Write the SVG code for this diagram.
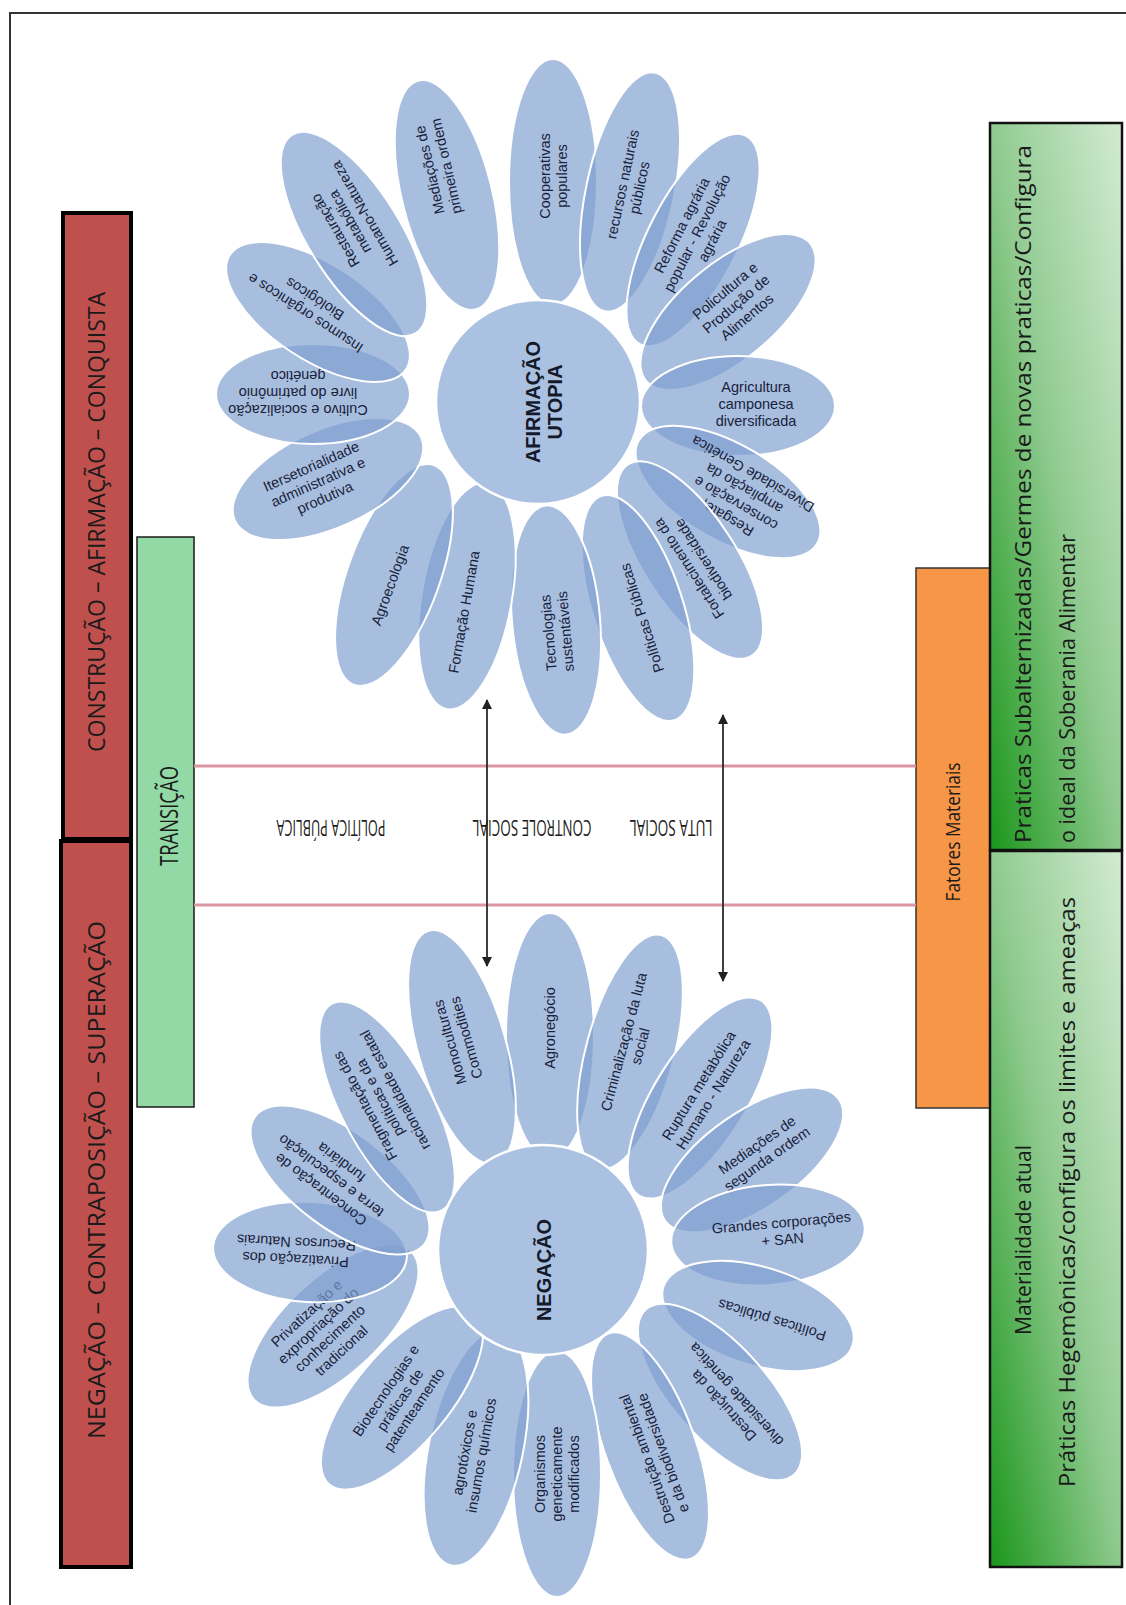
<svg xmlns="http://www.w3.org/2000/svg" width="1126" height="1605" viewBox="0 0 1126 1605">
<style>
.petal{fill:#7f9fd0;fill-opacity:.68;stroke:#fff;stroke-width:2}
.hub{fill:#abc1e2;stroke:#fff;stroke-width:2.5}
.pt{font-family:"Liberation Sans",Arial,sans-serif;font-size:14.5px;fill:#18223a;text-anchor:middle}
.hubt{font-family:"Liberation Sans",Arial,sans-serif;font-weight:bold;fill:#141a2a;text-anchor:middle}
.bt{font-family:"Open Sans","Noto Sans",sans-serif;fill:#1a1a1a}
.pink{stroke:#dc96a2;stroke-width:3}
.arr{stroke:#2a2a2a;stroke-width:1.8;marker-start:url(#ah);marker-end:url(#ah)}
</style>
<defs>
<marker id="ah" viewBox="0 0 10 10" refX="9" refY="5" markerWidth="10" markerHeight="10" markerUnits="userSpaceOnUse" orient="auto-start-reverse"><path d="M0,0 L10,5 L0,10 z" fill="#222"/></marker>
<linearGradient id="gg" x1="0" y1="1" x2="1" y2="0"><stop offset="0" stop-color="#1a961a"/><stop offset="0.5" stop-color="#8fca8f"/><stop offset="1" stop-color="#d2ebd2"/></linearGradient>
</defs>
<rect x="0" y="0" width="1126" height="1605" fill="#fff"/>
<rect x="10" y="13" width="1140" height="1620" fill="none" stroke="#333" stroke-width="2"/>

<g id="bar-construcao"><rect x="63" y="213" width="68" height="626" fill="#c0504d" stroke="#000" stroke-width="4"/><text class="bt" font-size="23" text-anchor="middle" textLength="460" lengthAdjust="spacingAndGlyphs" transform="translate(105 522) rotate(-90)">CONSTRUÇÃO – AFIRMAÇÃO – CONQUISTA</text></g>
<g id="bar-negacao"><rect x="61" y="841" width="70" height="726" fill="#c0504d" stroke="#000" stroke-width="4"/><text class="bt" font-size="23" text-anchor="middle" textLength="518" lengthAdjust="spacingAndGlyphs" transform="translate(105 1180) rotate(-90)">NEGAÇÃO – CONTRAPOSIÇÃO – SUPERAÇÃO</text></g>
<g id="bar-transicao"><rect x="137" y="537" width="57" height="570" fill="#92d9a6" stroke="#1a1a1a" stroke-width="1.5"/><text class="bt" font-size="26" text-anchor="middle" textLength="100" lengthAdjust="spacingAndGlyphs" transform="translate(178 816) rotate(-90)">TRANSIÇÃO</text></g>
<g id="box-fatores"><rect x="916" y="568" width="74" height="540" fill="#f79646" stroke="#333" stroke-width="1.5"/><text class="bt" font-size="20" text-anchor="middle" textLength="139" lengthAdjust="spacingAndGlyphs" transform="translate(960 832) rotate(-90)">Fatores Materiais</text></g>
<g id="box-subalternizadas"><rect x="990" y="123" width="132" height="727" fill="url(#gg)" stroke="#111" stroke-width="2.5"/><text class="bt" font-size="21" textLength="698" lengthAdjust="spacingAndGlyphs" transform="translate(1031 843) rotate(-90)">Praticas Subalternizadas/Germes de novas praticas/Configura</text><text class="bt" font-size="21" textLength="309" lengthAdjust="spacingAndGlyphs" transform="translate(1075 843) rotate(-90)">o ideal da Soberania Alimentar</text></g>
<g id="box-materialidade"><rect x="990" y="851" width="132" height="716" fill="url(#gg)" stroke="#111" stroke-width="2.5"/><text class="bt" font-size="21" text-anchor="middle" textLength="190" lengthAdjust="spacingAndGlyphs" transform="translate(1031 1240) rotate(-90)">Materialidade atual</text><text class="bt" font-size="21" text-anchor="middle" textLength="590" lengthAdjust="spacingAndGlyphs" transform="translate(1075 1192) rotate(-90)">Práticas Hegemônicas/configura os limites e ameaças</text></g>

<g id="connectors">
<line class="pink" x1="194" y1="766" x2="916" y2="766"/>
<line class="pink" x1="194" y1="905" x2="916" y2="905"/>
<line class="arr" x1="487" y1="700" x2="487" y2="966"/>
<line class="arr" x1="723" y1="715" x2="723" y2="981"/>
</g>
<g id="labels-middle">
<text class="bt" font-size="21" text-anchor="middle" textLength="109" lengthAdjust="spacingAndGlyphs" transform="translate(331 820) rotate(180)">POLÍTICA PÚBLICA</text>
<text class="bt" font-size="21" text-anchor="middle" textLength="119" lengthAdjust="spacingAndGlyphs" transform="translate(532 820) rotate(180)">CONTROLE SOCIAL</text>
<text class="bt" font-size="21" text-anchor="middle" textLength="83" lengthAdjust="spacingAndGlyphs" transform="translate(671 820) rotate(180)">LUTA SOCIAL</text>
</g>

<g id="flower-afirmacao">
<g id="a1"><ellipse class="petal" rx="123" ry="44" transform="translate(553 182) rotate(-90)"/><text class="pt" transform="translate(553 176) rotate(-90)"><tspan x="0" y="-3.5">Cooperativas</tspan><tspan x="0" y="13.5">populares</tspan></text></g>
<g id="a2"><ellipse class="petal" rx="122" ry="44" transform="translate(630 192) rotate(-78)"/><text class="pt" transform="translate(631 186) rotate(-78)"><tspan x="0" y="-3.5">recursos naturais</tspan><tspan x="0" y="13.5">públicos</tspan></text></g>
<g id="a3"><ellipse class="petal" rx="117" ry="45" transform="translate(693 240) rotate(-63)"/><text class="pt" transform="translate(697 233) rotate(-63)"><tspan x="0" y="-12">Reforma agrária</tspan><tspan x="0" y="5">popular - Revolução</tspan><tspan x="0" y="22">agrária</tspan></text></g>
<g id="a4"><ellipse class="petal" rx="107" ry="48" transform="translate(728 312) rotate(-40)"/><text class="pt" transform="translate(736 304) rotate(-40)"><tspan x="0" y="-12">Policultura e</tspan><tspan x="0" y="5">Produção de</tspan><tspan x="0" y="22">Alimentos</tspan></text></g>
<g id="a5"><ellipse class="petal" rx="97" ry="50" transform="translate(738 406) rotate(0)"/><text class="pt" transform="translate(756 404) rotate(0)"><tspan x="0" y="-12">Agricultura</tspan><tspan x="0" y="5">camponesa</tspan><tspan x="0" y="22">diversificada</tspan></text></g>
<g id="a6"><ellipse class="petal" rx="103" ry="48" transform="translate(728 492) rotate(30)"/><text class="pt" transform="translate(740 496) rotate(210)"><tspan x="0" y="-20.5">Resgate,</tspan><tspan x="0" y="-3.5">conservação e</tspan><tspan x="0" y="13.5">ampliação da</tspan><tspan x="0" y="30.5">Diversidade Genética</tspan></text></g>
<g id="a7"><ellipse class="petal" rx="114" ry="46" transform="translate(690 560) rotate(57)"/><text class="pt" transform="translate(696 564) rotate(237)"><tspan x="0" y="-3.5">Fortalecimento da</tspan><tspan x="0" y="13.5">biodiversidade</tspan></text></g>
<g id="a8"><ellipse class="petal" rx="118" ry="45" transform="translate(638 608) rotate(72)"/><text class="pt" transform="translate(642 618) rotate(252)"><tspan x="0" y="5">Políticas Públicas</tspan></text></g>
<g id="a9"><ellipse class="petal" rx="115" ry="44" transform="translate(556 620) rotate(85)"/><text class="pt" transform="translate(557 632) rotate(-95)"><tspan x="0" y="-3.5">Tecnologias</tspan><tspan x="0" y="13.5">sustentáveis</tspan></text></g>
<g id="a10"><ellipse class="petal" rx="115" ry="45" transform="translate(467 596) rotate(-80)"/><text class="pt" transform="translate(464 612) rotate(-80)"><tspan x="0" y="5">Formação Humana</tspan></text></g>
<g id="a11"><ellipse class="petal" rx="117" ry="46" transform="translate(394 575) rotate(-70)"/><text class="pt" transform="translate(390 585) rotate(-70)"><tspan x="0" y="5">Agroecologia</tspan></text></g>
<g id="a12"><ellipse class="petal" rx="102" ry="49" transform="translate(328 479) rotate(-24)"/><text class="pt" transform="translate(318 482) rotate(-24)"><tspan x="0" y="-12">Itersetorialidade</tspan><tspan x="0" y="5">administrativa e</tspan><tspan x="0" y="22">produtiva</tspan></text></g>
<g id="a13"><ellipse class="petal" rx="97" ry="50" transform="translate(313 394) rotate(0)"/><text class="pt" transform="translate(298 393) rotate(180)"><tspan x="0" y="-12">Cultivo e socialização</tspan><tspan x="0" y="5">livre do patrimônio</tspan><tspan x="0" y="22">genético</tspan></text></g>
<g id="a14"><ellipse class="petal" rx="105" ry="48" transform="translate(318 312) rotate(33)"/><text class="pt" transform="translate(310 306) rotate(213)"><tspan x="0" y="-3.5">Insumos orgânicos e</tspan><tspan x="0" y="13.5">Biológicos</tspan></text></g>
<g id="a15"><ellipse class="petal" rx="117" ry="46" transform="translate(354 234) rotate(58)"/><text class="pt" transform="translate(350 222) rotate(240)"><tspan x="0" y="-12">Restauração</tspan><tspan x="0" y="5">metabólica</tspan><tspan x="0" y="22">Humano-Natureza</tspan></text></g>
<g id="a16"><ellipse class="petal" rx="118" ry="45" transform="translate(447 195) rotate(76)"/><text class="pt" transform="translate(438 168) rotate(257)"><tspan x="0" y="-3.5">Mediações de</tspan><tspan x="0" y="13.5">primeira ordem</tspan></text></g>
<g id="a-hub"><circle class="hub" cx="538" cy="402" r="102"/><text class="hubt" font-size="20" transform="translate(544 402) rotate(-90)"><tspan x="0" y="-4">AFIRMAÇÃO</tspan><tspan x="0" y="18">UTOPIA</tspan></text></g>
</g>

<g id="flower-negacao">
<g id="n1"><ellipse class="petal" rx="123" ry="44" transform="translate(550 1036) rotate(-90)"/><text class="pt" transform="translate(550 1028) rotate(-90)"><tspan x="0" y="5">Agronegócio</tspan></text></g>
<g id="n2"><ellipse class="petal" rx="121" ry="44" transform="translate(630 1052) rotate(-75)"/><text class="pt" transform="translate(632 1044) rotate(-75)"><tspan x="0" y="-3.5">Criminalização da luta</tspan><tspan x="0" y="13.5">social</tspan></text></g>
<g id="n3"><ellipse class="petal" rx="115" ry="46" transform="translate(700 1098) rotate(-58)"/><text class="pt" transform="translate(706 1090) rotate(-58)"><tspan x="0" y="-3.5">Ruptura metabólica</tspan><tspan x="0" y="13.5">Humano - Natureza</tspan></text></g>
<g id="n4"><ellipse class="petal" rx="106" ry="48" transform="translate(752 1160) rotate(-35)"/><text class="pt" transform="translate(762 1152) rotate(-35)"><tspan x="0" y="-3.5">Mediações de</tspan><tspan x="0" y="13.5">segunda ordem</tspan></text></g>
<g id="n5"><ellipse class="petal" rx="97" ry="50" transform="translate(768 1235) rotate(-5)"/><text class="pt" transform="translate(782 1231) rotate(-5)"><tspan x="0" y="-3.5">Grandes corporações</tspan><tspan x="0" y="13.5">+ SAN</tspan></text></g>
<g id="n6"><ellipse class="petal" rx="99" ry="49" transform="translate(758 1316) rotate(17)"/><text class="pt" transform="translate(772 1320) rotate(197)"><tspan x="0" y="5">Políticas públicas</tspan></text></g>
<g id="n7"><ellipse class="petal" rx="111" ry="47" transform="translate(720 1392) rotate(48)"/><text class="pt" transform="translate(730 1400) rotate(228)"><tspan x="0" y="-3.5">Destruição da</tspan><tspan x="0" y="13.5">diversidade genética</tspan></text></g>
<g id="n8"><ellipse class="petal" rx="120" ry="45" transform="translate(650 1446) rotate(70)"/><text class="pt" transform="translate(655 1456) rotate(250)"><tspan x="0" y="-3.5">Destruição ambiental</tspan><tspan x="0" y="13.5">e da biodiversidade</tspan></text></g>
<g id="n9"><ellipse class="petal" rx="123" ry="44" transform="translate(557 1474) rotate(-90)"/><text class="pt" transform="translate(557 1474) rotate(-90)"><tspan x="0" y="-12">Organismos</tspan><tspan x="0" y="5">geneticamente</tspan><tspan x="0" y="22">modificados</tspan></text></g>
<g id="n10"><ellipse class="petal" rx="120" ry="47" transform="translate(476 1448) rotate(-78)"/><text class="pt" transform="translate(473 1454) rotate(-80)"><tspan x="0" y="-3.5">agrotóxicos e</tspan><tspan x="0" y="13.5">insumos químicos</tspan></text></g>
<g id="n11"><ellipse class="petal" rx="113" ry="47" transform="translate(402 1398) rotate(-50)"/><text class="pt" transform="translate(400 1400) rotate(-56)"><tspan x="0" y="-12">Biotecnologias e</tspan><tspan x="0" y="5">práticas de</tspan><tspan x="0" y="22">patenteamento</tspan></text></g>
<g id="n12"><ellipse class="petal" rx="108" ry="48" transform="translate(333 1326) rotate(-43)"/><text class="pt" transform="translate(324 1332) rotate(-43)"><tspan x="0" y="-20.5">Privatização e</tspan><tspan x="0" y="-3.5">expropriação do</tspan><tspan x="0" y="13.5">conhecimento</tspan><tspan x="0" y="30.5">tradicional</tspan></text></g>
<g id="n13"><ellipse class="petal" rx="97" ry="50" transform="translate(310 1252) rotate(3)"/><text class="pt" transform="translate(296 1251) rotate(183)"><tspan x="0" y="-3.5">Privatização dos</tspan><tspan x="0" y="13.5">Recursos Naturais</tspan></text></g>
<g id="n14"><ellipse class="petal" rx="106" ry="48" transform="translate(340 1180) rotate(37)"/><text class="pt" transform="translate(331 1176) rotate(217)"><tspan x="0" y="-12">Concentração de</tspan><tspan x="0" y="5">terra e especulação</tspan><tspan x="0" y="22">fundiária</tspan></text></g>
<g id="n15"><ellipse class="petal" rx="117" ry="45" transform="translate(387 1107) rotate(62)"/><text class="pt" transform="translate(380 1098) rotate(242)"><tspan x="0" y="-12">Fragmentação das</tspan><tspan x="0" y="5">políticas e da</tspan><tspan x="0" y="22">racionalidade estatal</tspan></text></g>
<g id="n16"><ellipse class="petal" rx="121" ry="44" transform="translate(462 1047) rotate(74)"/><text class="pt" transform="translate(458 1040) rotate(254)"><tspan x="0" y="-3.5">Monoculturas</tspan><tspan x="0" y="13.5">Commodities</tspan></text></g>
<g id="n-hub"><circle class="hub" cx="543" cy="1250" r="105"/><text class="hubt" font-size="20" transform="translate(551 1270) rotate(-90)"><tspan x="0" y="0">NEGAÇÃO</tspan></text></g>
</g>
</svg>
